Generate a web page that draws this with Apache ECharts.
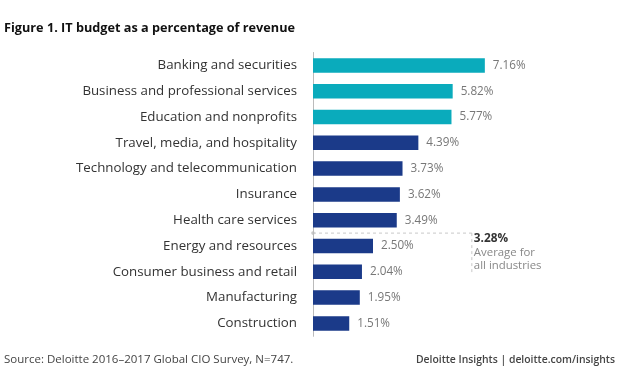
<!DOCTYPE html>
<html>
<head>
<meta charset="utf-8">
<script src="https://cdn.jsdelivr.net/npm/echarts@6/dist/echarts.min.js"></script>
<style>
html,body{margin:0;padding:0;background:#fff;}
#main{width:624px;height:371px;}
</style>
</head>
<body>
<div id="main"></div>
<script>
var categories = [
  "Banking and securities",
  "Business and professional services",
  "Education and nonprofits",
  "Travel, media, and hospitality",
  "Technology and telecommunication",
  "Insurance",
  "Health care services",
  "Energy and resources",
  "Consumer business and retail",
  "Manufacturing",
  "Construction"
];
var values = [7.16, 5.82, 5.77, 4.39, 3.73, 3.62, 3.49, 2.50, 2.04, 1.95, 1.51];
var highlighted = [true, true, true, false, false, false, false, false, false, false, false];
var averageValue = 3.28;
var averageText = ["Average for", "all industries"];
var titleText = "Figure 1. IT budget as a percentage of revenue";
var sourceText = "Source: Deloitte 2016\u20132017 Global CIO Survey, N=747.";
var brandText = "Deloitte Insights | deloitte.com/insights";

var TEAL = "#0aabbc";
var NAVY = "#1b3a89";
var FONT = "'Open Sans', 'Noto Sans', sans-serif";

var chart = echarts.init(document.getElementById('main'), null, {renderer: 'canvas'});

var option = {
  animation: false,
  backgroundColor: '#fff',
  textStyle: {fontFamily: FONT},
  title: {
    text: titleText,
    left: 4, top: 22, padding: 0,
    textStyle: {fontFamily: FONT, fontSize: 12.7, fontWeight: 'bold', color: '#111'}
  },
  grid: {left: 313, top: 52.5, height: 283.8, width: 288, containLabel: false},
  xAxis: {
    type: 'value', min: 0, max: 12,
    show: false
  },
  yAxis: {
    type: 'category',
    data: categories,
    inverse: true,
    axisLine: {show: true, lineStyle: {color: '#bbb', width: 1}},
    axisTick: {show: false},
    axisLabel: {fontFamily: FONT, fontSize: 13.3, color: '#333', margin: 16}
  },
  series: [{
    type: 'bar',
    barWidth: 14.5,
    data: values.map(function (v, i) {
      return {value: v, itemStyle: {color: highlighted[i] ? TEAL : NAVY}};
    }),
    label: {
      show: true, position: 'right', distance: 8,
      fontFamily: FONT, fontSize: 11.7, color: '#777',
      formatter: function (p) { return p.value.toFixed(2) + '%'; }
    }
  }]
};
chart.setOption(option);

// Average annotation placed between the categories the average falls between
var idx = 0;
while (idx < values.length && values[idx] >= averageValue) idx++;
var yA = chart.convertToPixel({yAxisIndex: 0}, categories[idx - 1]);
var yB = chart.convertToPixel({yAxisIndex: 0}, categories[idx]);
var yMid = (yA + yB) / 2;
var x0 = chart.convertToPixel({xAxisIndex: 0}, 0);
var xEnd = chart.convertToPixel({xAxisIndex: 0}, values[0]) - 13;
var dash = {stroke: '#c8c8c8', lineWidth: 1, lineDash: [3, 3]};

chart.setOption({
  graphic: [
    {type: 'line', shape: {x1: x0, y1: yMid, x2: xEnd, y2: yMid}, style: dash, silent: true},
    {type: 'line', shape: {x1: xEnd, y1: yMid, x2: xEnd, y2: yMid + 41}, style: dash, silent: true},
    {type: 'circle', shape: {cx: x0, cy: yMid, r: 1.8}, style: {fill: '#c8c8c8'}, silent: true},
    {type: 'text', left: xEnd + 2, top: yMid, style: {
      text: averageValue.toFixed(2) + '%', fontFamily: FONT, fontSize: 11.8, fontWeight: 'bold', fill: '#333'}},
    {type: 'text', left: xEnd + 2, top: yMid + 13.5, style: {
      text: averageText.join('\n'), fontFamily: FONT, fontSize: 11.4, lineHeight: 12.5, fill: '#888'}},
    {type: 'text', left: 4, top: 354, style: {
      text: sourceText, fontFamily: FONT, fontSize: 11.5, fill: '#444'}},
    {type: 'text', right: 9, top: 355, style: {
      text: brandText, fontFamily: FONT, fontSize: 10.4, fontWeight: 600, fill: '#444'}}
  ]
});
</script>
</body>
</html>
